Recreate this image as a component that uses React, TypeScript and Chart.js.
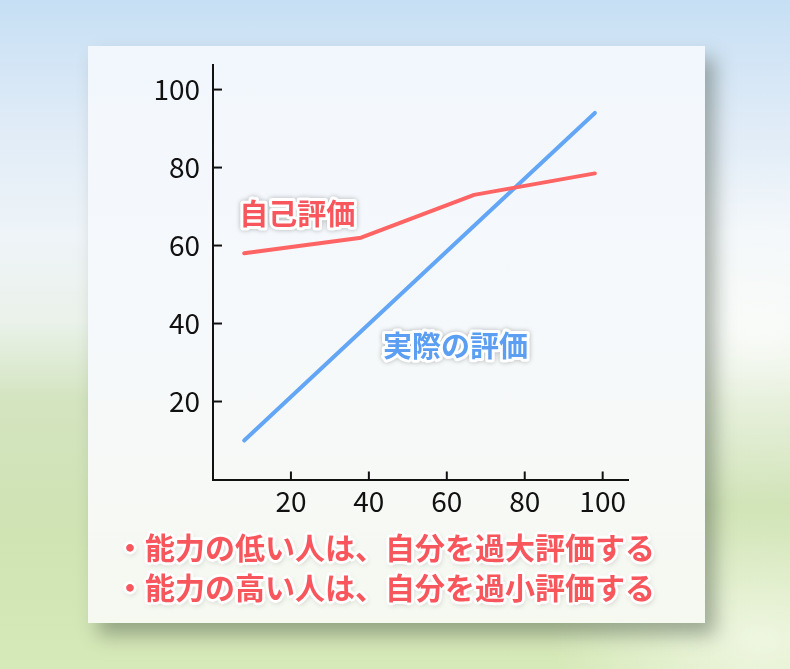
import React, { useRef, useEffect } from "react";
import { Chart, registerables } from "chart.js";

Chart.register(...registerables);

// values
const selfX = [8, 38, 67, 98];
const selfY = [58, 62, 73, 78.5];
const actualX = [8, 98];
const actualY = [10, 94];
const tickValues = [20, 40, 60, 80, 100];

const selfLabel = "自己評価";
const actualLabel = "実際の評価";
const notes = [
  "・能力の低い人は、自分を過大評価する",
  "・能力の高い人は、自分を過小評価する",
];

// where the in-chart labels sit, in axis units
const selfLabelAt = { x: 21.6, y: 68 };
const actualLabelAt = { x: 62.2, y: 34.2 };

const RED = "#ff6464";
const BLUE = "#64a6f6";
const CJK = '"Noto Sans CJK JP", "Noto Sans", sans-serif';

const toPoints = (xs: number[], ys: number[]) =>
  xs.map((x, i) => ({ x, y: ys[i] }));

const drawGlowText = (
  ctx: CanvasRenderingContext2D,
  text: string,
  x: number,
  y: number,
  color: string
) => {
  ctx.save();
  ctx.font = `bold 29px ${CJK}`;
  ctx.textAlign = "center";
  ctx.textBaseline = "middle";
  ctx.lineJoin = "round";
  ctx.shadowColor = "rgba(0,0,0,0.28)";
  ctx.shadowBlur = 5;
  ctx.strokeStyle = "#ffffff";
  ctx.lineWidth = 6;
  ctx.strokeText(text, x, y);
  ctx.shadowColor = "transparent";
  ctx.fillStyle = color;
  ctx.fillText(text, x, y);
  ctx.restore();
};

const innerTicks = {
  id: "innerTicks",
  afterDraw(chart: any) {
    const { ctx, chartArea, scales } = chart;
    ctx.save();
    ctx.strokeStyle = "#111";
    ctx.lineWidth = 2;
    scales.y.ticks.forEach((t: any) => {
      const py = scales.y.getPixelForValue(t.value);
      ctx.beginPath();
      ctx.moveTo(chartArea.left, py);
      ctx.lineTo(chartArea.left + 9, py);
      ctx.stroke();
    });
    scales.x.ticks.forEach((t: any) => {
      const px = scales.x.getPixelForValue(t.value);
      ctx.beginPath();
      ctx.moveTo(px, chartArea.bottom);
      ctx.lineTo(px, chartArea.bottom - 8);
      ctx.stroke();
    });
    ctx.restore();

    drawGlowText(
      ctx,
      selfLabel,
      scales.x.getPixelForValue(selfLabelAt.x),
      scales.y.getPixelForValue(selfLabelAt.y),
      "#f7575c"
    );
    drawGlowText(
      ctx,
      actualLabel,
      scales.x.getPixelForValue(actualLabelAt.x),
      scales.y.getPixelForValue(actualLabelAt.y),
      "#5c9ef2"
    );
  },
};

const noEdgePadding = (s: any) => {
  s.paddingTop = 0;
  s.paddingBottom = 0;
  s.paddingLeft = 0;
  s.paddingRight = 0;
};

const EffectChart = () => {
  const canvasRef = useRef<HTMLCanvasElement | null>(null);
  const chartRef = useRef<Chart | null>(null);

  useEffect(() => {
    if (chartRef.current) chartRef.current.destroy();
    const ctx = canvasRef.current?.getContext("2d");
    if (!ctx) return;

    const tickFont = { family: CJK, size: 28 };

    chartRef.current = new Chart(ctx, {
      type: "line",
      data: {
        datasets: [
          {
            label: selfLabel,
            data: toPoints(selfX, selfY),
            borderColor: RED,
            borderWidth: 4,
            borderCapStyle: "round",
            borderJoinStyle: "round",
            pointRadius: 0,
            tension: 0,
            fill: false,
          },
          {
            label: actualLabel,
            data: toPoints(actualX, actualY),
            borderColor: BLUE,
            borderWidth: 4,
            borderCapStyle: "round",
            pointRadius: 0,
            tension: 0,
            fill: false,
          },
        ],
      },
      options: {
        responsive: false,
        animation: false,
        devicePixelRatio: 1,
        layout: { padding: { left: 25, right: 77, top: 19, bottom: 103.5 } },
        plugins: {
          legend: { display: false },
          tooltip: { enabled: false },
        },
        scales: {
          x: {
            type: "linear",
            min: 0,
            max: 106.5,
            afterBuildTicks: (s: any) => {
              s.ticks = tickValues.map((v) => ({ value: v }));
            },
            afterFit: (s: any) => {
              s.height = 40;
              noEdgePadding(s);
            },
            grid: { display: true, drawOnChartArea: false, drawTicks: false },
            border: { display: true, color: "#111", width: 2 },
            ticks: { color: "#111", font: tickFont, padding: 5, maxRotation: 0 },
          },
          y: {
            type: "linear",
            min: 0,
            max: 106.3,
            afterBuildTicks: (s: any) => {
              s.ticks = tickValues.map((v) => ({ value: v }));
            },
            afterFit: (s: any) => {
              s.width = 100;
              noEdgePadding(s);
            },
            grid: { display: true, drawOnChartArea: false, drawTicks: false },
            border: { display: true, color: "#111", width: 2 },
            ticks: { color: "#111", font: tickFont, padding: 13 },
          },
        },
      },
      plugins: [innerTicks],
    });

    return () => {
      if (chartRef.current) {
        chartRef.current.destroy();
        chartRef.current = null;
      }
    };
  }, []);

  return (
    <canvas
      ref={canvasRef}
      width={617}
      height={577}
      style={{ position: "absolute", left: 0, top: 0, width: 617, height: 577 }}
    />
  );
};

const outline =
  "2px 0 0 #fff, -2px 0 0 #fff, 0 2px 0 #fff, 0 -2px 0 #fff, 2px 2px 0 #fff, -2px -2px 0 #fff, 2px -2px 0 #fff, -2px 2px 0 #fff, 3px 0 1px #fff, -3px 0 1px #fff, 0 3px 1px #fff, 0 -3px 1px #fff, 1px 2px 6px rgba(0,0,0,0.3)";

export default function App() {
  return (
    <div
      style={{
        position: "fixed",
        left: 0,
        top: 0,
        width: 790,
        height: 669,
        overflow: "hidden",
        background:
          "linear-gradient(180deg, #c6dff4 0%, #dfebf7 18%, #eef4f8 35%, #eaf2ea 48%, #d3e4bf 60%, #cfe3b3 80%, #d6e9b8 100%)",
      }}
    >
      <div
        style={{
          position: "absolute",
          left: 0,
          top: 0,
          width: 790,
          height: 669,
          background:
            "radial-gradient(ellipse 360px 260px at 760px 330px, rgba(255,255,255,0.75), rgba(255,255,255,0) 70%), radial-gradient(ellipse 300px 200px at 760px 640px, rgba(245,250,235,0.8), rgba(245,250,235,0) 70%)",
        }}
      />
      <div
        style={{
          position: "absolute",
          left: 88,
          top: 46,
          width: 617,
          height: 577,
          background: "linear-gradient(180deg, #f2f7fd 0%, #f6f9fb 50%, #f6f9f0 100%)",
          boxShadow: "10px 12px 18px rgba(70,85,70,0.45)",
        }}
      >
        <EffectChart />
        {notes.map((n, i) => (
          <div
            key={i}
            style={{
              position: "absolute",
              left: 27,
              top: 480 + i * 40,
              height: 40,
              lineHeight: "40px",
              whiteSpace: "nowrap",
              fontFamily: CJK,
              fontWeight: 700,
              fontSize: 30,
              color: "#f7575c",
              textShadow: outline,
            }}
          >
            {n}
          </div>
        ))}
      </div>
    </div>
  );
}
